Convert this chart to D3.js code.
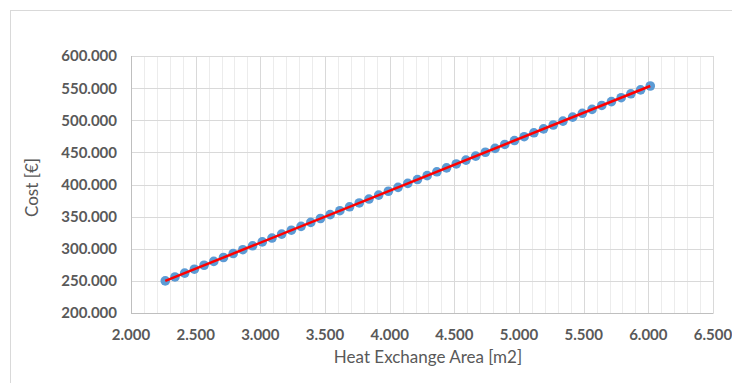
<!DOCTYPE html>
<html>
<head>
<meta charset="utf-8">
<script src="https://cdn.jsdelivr.net/npm/d3@7"></script>
<style>
  html, body { margin: 0; padding: 0; background: #fff; }
  svg { display: block; }
  .tick-label { font-family: Lato, "Open Sans", sans-serif; font-size: 15px; font-weight: bold; fill: #595959; }
  .axis-title { font-family: Lato, "Open Sans", sans-serif; font-size: 17px; fill: #595959; }
</style>
</head>
<body>
<svg id="chart" width="732" height="383"></svg>
<script>
(function () {
  'use strict';

  // Heat exchange area [m2]
  const AREA = [
    2265, 2340, 2415, 2490, 2565, 2640, 2715, 2790, 2865, 2940,
    3015, 3090, 3165, 3240, 3315, 3390, 3465, 3540, 3615, 3690,
    3765, 3840, 3915, 3990, 4065, 4140, 4215, 4290, 4365, 4440,
    4515, 4590, 4665, 4740, 4815, 4890, 4965, 5040, 5115, 5190,
    5265, 5340, 5415, 5490, 5565, 5640, 5715, 5790, 5865, 5940,
    6015
  ];

  // Cost [€]
  const COST = [
    250000, 256100, 262100, 268200, 274300, 280300, 286400, 292500, 298500, 304600,
    310700, 316700, 322800, 328900, 334900, 341000, 347100, 353100, 359200, 365300,
    371300, 377400, 383500, 389500, 395600, 401700, 407700, 413800, 419800, 425900,
    432000, 438000, 444100, 450200, 456200, 462300, 468400, 474400, 480500, 486600,
    492600, 498700, 504800, 510800, 516900, 523000, 529000, 535100, 541200, 547200,
    553300
  ];

  const X_TICKS = [2000, 2500, 3000, 3500, 4000, 4500, 5000, 5500, 6000, 6500];
  const Y_TICKS = [200000, 250000, 300000, 350000, 400000, 450000, 500000, 550000, 600000];

  const points = AREA.map((a, i) => ({ x: a, y: COST[i] }));

  // European style thousands separator: 600.000
  const locale = d3.formatLocale({ decimal: ',', thousands: '.', grouping: [3], currency: ['', '€'] });
  const fmtTick = locale.format(',');

  const svg = d3.select('#chart');
  const left = 131, right = 713, top = 56, bottom = 313;

  const x = d3.scaleLinear().domain([2000, 6500]).range([left, right]);
  const y = d3.scaleLinear().domain([200000, 600000]).range([bottom, top]);

  // outer chart border (cropped on right/bottom)
  svg.append('rect')
    .attr('x', 10.5).attr('y', 10.5)
    .attr('width', 740).attr('height', 400)
    .attr('fill', 'none').attr('stroke', '#d9d9d9');

  // minor vertical gridlines
  const minor = d3.range(2000, 6501, 100).filter(v => v % 500 !== 0);
  svg.append('g').selectAll('line')
    .data(minor)
    .join('line')
    .attr('x1', d => Math.round(x(d)) + 0.5).attr('x2', d => Math.round(x(d)) + 0.5)
    .attr('y1', top).attr('y2', bottom)
    .attr('stroke', '#ececec').attr('stroke-width', 1);

  // major gridlines
  svg.append('g').selectAll('line')
    .data(X_TICKS)
    .join('line')
    .attr('x1', d => Math.round(x(d)) + 0.5).attr('x2', d => Math.round(x(d)) + 0.5)
    .attr('y1', top).attr('y2', bottom)
    .attr('stroke', '#d9d9d9').attr('stroke-width', 1);

  svg.append('g').selectAll('line')
    .data(Y_TICKS)
    .join('line')
    .attr('x1', left).attr('x2', right)
    .attr('y1', d => Math.round(y(d)) + 0.5).attr('y2', d => Math.round(y(d)) + 0.5)
    .attr('stroke', '#d9d9d9').attr('stroke-width', 1);

  // axis lines
  svg.append('line')
    .attr('x1', left + 0.5).attr('x2', left + 0.5).attr('y1', top).attr('y2', bottom + 0.5)
    .attr('stroke', '#bfbfbf');
  svg.append('line')
    .attr('x1', left).attr('x2', right + 0.5).attr('y1', bottom + 0.5).attr('y2', bottom + 0.5)
    .attr('stroke', '#bfbfbf');

  // tick labels
  svg.append('g').selectAll('text')
    .data(Y_TICKS)
    .join('text')
    .attr('class', 'tick-label')
    .attr('x', left - 14)
    .attr('y', d => y(d))
    .attr('dy', '0.36em')
    .attr('text-anchor', 'end')
    .text(d => fmtTick(d));

  svg.append('g').selectAll('text')
    .data(X_TICKS)
    .join('text')
    .attr('class', 'tick-label')
    .attr('x', d => x(d))
    .attr('y', 340)
    .attr('text-anchor', 'middle')
    .text(d => fmtTick(d));

  // axis titles
  svg.append('text')
    .attr('class', 'axis-title')
    .attr('x', (left + right) / 2 + 6)
    .attr('y', 363)
    .attr('text-anchor', 'middle')
    .text('Heat Exchange Area [m2]');

  svg.append('text')
    .attr('class', 'axis-title')
    .attr('transform', `translate(38,${(top + bottom) / 2 + 3}) rotate(-90)`)
    .attr('text-anchor', 'middle')
    .text('Cost [€]');

  // markers
  svg.append('g').selectAll('circle')
    .data(points)
    .join('circle')
    .attr('cx', d => x(d.x))
    .attr('cy', d => y(d.y))
    .attr('r', 4.8)
    .attr('fill', '#5b9bd5');

  // linear trendline
  const line = d3.line().x(d => x(d.x)).y(d => y(d.y));
  const ends = [points[0], points[points.length - 1]];
  svg.append('path')
    .datum(ends)
    .attr('d', line)
    .attr('fill', 'none')
    .attr('stroke', '#ff0000')
    .attr('stroke-width', 2.5);
})();
</script>
</body>
</html>
